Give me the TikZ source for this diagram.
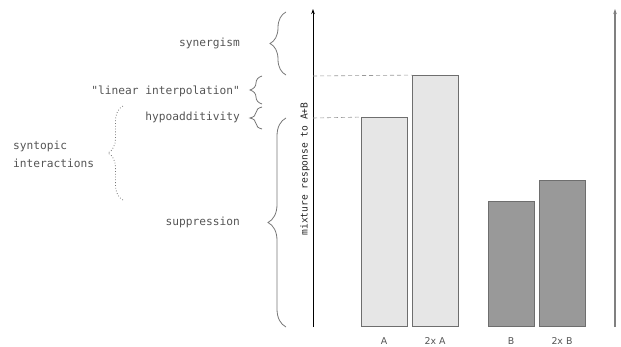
\documentclass[tikz,border=0pt]{standalone}
\usepackage{fontspec}
\setmainfont{DejaVu Sans}
\setmonofont{DejaVu Sans Mono}
\usetikzlibrary{decorations.pathreplacing,arrows.meta}
\definecolor{txtgray}{HTML}{555555}
\definecolor{bargray}{HTML}{6E6E6E}
\definecolor{lightbar}{HTML}{E6E6E6}
\definecolor{darkbar}{HTML}{999999}
\definecolor{bracegray}{HTML}{777777}
\begin{document}
\begin{tikzpicture}[x=1pt,y=-1pt,
  lbl/.style={font=\ttfamily\fontsize{11.2}{12}\selectfont, text=txtgray, inner sep=0pt},
  barlbl/.style={font=\fontsize{9.4}{10}\selectfont, text=txtgray, inner sep=0pt},
  bar/.style={draw=bargray, line width=0.9pt},
  bracket/.style={draw=bracegray, line width=0.8pt, decorate, decoration={brace, amplitude=#1}},
  dotbracket/.style={draw=bracegray, line width=0.8pt, dotted, decorate, decoration={brace, amplitude=#1}},
  guide/.style={draw=gray!80, line width=0.6pt, dash pattern=on 4pt off 3pt},
  axis/.style={line width=0.9pt, -{Stealth[length=5pt,width=3.5pt]}}
]
\useasboundingbox (0,0) rectangle (621,347);
% axes
\coordinate (ax0) at (313,327);
\coordinate (ax1) at (313,9);
\coordinate (bx0) at (615,327);
\coordinate (bx1) at (615,9);
\draw[axis, black] (ax0) -- (ax1);
\draw[axis, gray, line width=1.3pt] (bx0) -- (bx1);
\node[rotate=90, font=\ttfamily\fontsize{9.6}{11}\selectfont, text=black!85, inner sep=0pt] (ylab) at (305,169) {mixture response to A+B};
% bars
\node[bar, fill=lightbar, minimum width=46pt, minimum height=209pt, inner sep=0pt, anchor=south west] (barA) at (361,327) {};
\node[bar, fill=lightbar, minimum width=46pt, minimum height=251pt, inner sep=0pt, anchor=south west] (barAA) at (412,327) {};
\node[bar, fill=darkbar, minimum width=46pt, minimum height=125pt, inner sep=0pt, anchor=south west] (barB) at (488,327) {};
\node[bar, fill=darkbar, minimum width=46pt, minimum height=146pt, inner sep=0pt, anchor=south west] (barBB) at (539,327) {};
\node[barlbl] (lA) at (384,341) {A};
\node[barlbl] (lAA) at (435,341) {2x A};
\node[barlbl] (lB) at (511,341) {B};
\node[barlbl] (lBB) at (562,341) {2x B};
% guides
\coordinate (gA) at (313,118);
\coordinate (gAA) at (313,76);
\draw[guide] (gAA) -- (barAA.north west);
\draw[guide] (gA) -- (barA.north west);
% braces
\coordinate (s0) at (286,75);  \coordinate (s1) at (286,12);
\coordinate (l0) at (262,104); \coordinate (l1) at (262,76);
\coordinate (h0) at (262,129); \coordinate (h1) at (262,107);
\coordinate (p0) at (286,327); \coordinate (p1) at (286,118);
\coordinate (d0) at (123,200); \coordinate (d1) at (123,106);
\draw[bracket=16pt] (s0) -- (s1);
\draw[bracket=12pt] (l0) -- (l1);
\draw[bracket=12pt] (h0) -- (h1);
\draw[bracket=18pt] (p0) -- (p1);
\draw[dotbracket=15pt] (d0) -- (d1);
% labels
\node[lbl, anchor=east] (syn) at (240,43) {synergism};
\node[lbl, anchor=east] (lin) at (240,91) {"linear interpolation"};
\node[lbl, anchor=east] (hyp) at (240,117) {hypoadditivity};
\node[lbl, anchor=east] (sup) at (240,222) {suppression};
\node[lbl, anchor=west, align=left, font=\ttfamily\fontsize{11.2}{18}\selectfont] (synt) at (13,154) {syntopic\\interactions};
\end{tikzpicture}
\end{document}
